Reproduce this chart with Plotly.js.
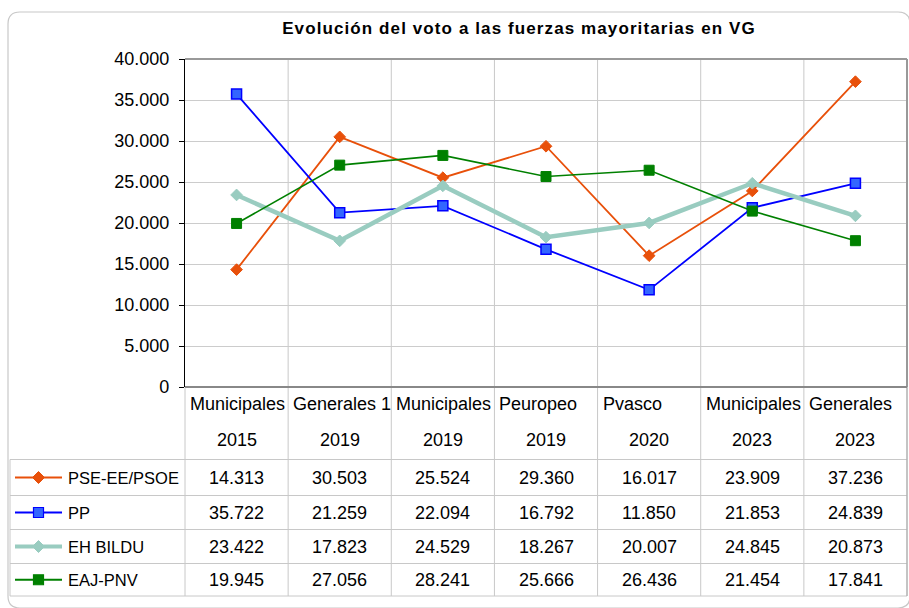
<!DOCTYPE html>
<html>
<head>
<meta charset="utf-8">
<script src="https://cdn.plot.ly/plotly-3.0.1.min.js"></script>
<style>
  html, body { margin: 0; padding: 0; background: #ffffff; }
  #chart { width: 909px; height: 608px; }
  .gtitle { letter-spacing: 1.1px; }
</style>
</head>
<body>
<div id="chart"></div>
<script>
// ---- data ----
const catLine1 = ["Municipales", "Generales 1", "Municipales", "Peuropeo", "Pvasco", "Municipales", "Generales"];
const catLine2 = ["2015", "2019", "2019", "2019", "2020", "2023", "2023"];
const seriesNames = ["PSE-EE/PSOE", "PP", "EH BILDU", "EAJ-PNV"];
const psoe  = [14313, 30503, 25524, 29360, 16017, 23909, 37236];
const pp    = [35722, 21259, 22094, 16792, 11850, 21853, 24839];
const bildu = [23422, 17823, 24529, 18267, 20007, 24845, 20873];
const pnv   = [19945, 27056, 28241, 25666, 26436, 21454, 17841];
const yTickMax = 40000;
const yTickStep = 5000;
const chartTitle = "Evolución del voto a las fuerzas mayoritarias en VG";

// ---- styling / layout helpers ----
const FONT = "Liberation Sans, Arial, Helvetica, sans-serif";
const L = 185, R = 907, T = 59, B = 387;       // plot area in pixels
const px = x => (x - L) / (R - L);
const py = y => (B - y) / (B - T);

const styles = [
  { line: { color: "#E8500A", width: 1.8 }, marker: { symbol: "diamond", size: 9, color: "#E8500A", line: { color: "#E8500A", width: 1 } }, lg: "diamond", lw: 2, mfill: "#E8500A", mline: "#E8500A" },
  { line: { color: "#0000FF", width: 1.8 }, marker: { symbol: "square", size: 10, color: "#3366FF", line: { color: "#0000FF", width: 1.5 } }, lg: "square", lw: 2, mfill: "#3366FF", mline: "#0000FF" },
  { line: { color: "#99CCC0", width: 4.5 }, marker: { symbol: "diamond", size: 9, color: "#99CCC0", line: { color: "#99CCC0", width: 1 } }, lg: "diamond", lw: 4, mfill: "#99CCC0", mline: "#99CCC0" },
  { line: { color: "#008000", width: 1.6 }, marker: { symbol: "square", size: 10, color: "#008000", line: { color: "#008000", width: 1 } }, lg: "square", lw: 2, mfill: "#008000", mline: "#008000" }
];
const seriesValues = [psoe, pp, bildu, pnv];
const xIdx = catLine1.map((_, i) => i);

const traces = seriesValues.map((vals, k) => ({
  type: "scatter", mode: "lines+markers",
  x: xIdx, y: vals, name: seriesNames[k],
  line: styles[k].line, marker: styles[k].marker,
  hoverinfo: "skip", cliponaxis: false
}));

function fmt(n) { return String(n).replace(/\B(?=(\d{3})+(?!\d))/g, "."); }

const GRID = "#c8c8c8";
const shapes = [];
const annotations = [];

// outer rounded border
(function () {
  const x0 = 8, y0 = 12, x1 = 910, y1 = 608, r = 12;
  const p = (x, y) => px(x) + "," + py(y);
  shapes.push({
    type: "path", xref: "paper", yref: "paper", layer: "below",
    path: "M" + p(x0, y0 + r) + " Q" + p(x0, y0) + " " + p(x0 + r, y0) +
          " L" + p(x1 - r, y0) + " Q" + p(x1, y0) + " " + p(x1, y0 + r) +
          " L" + p(x1, y1 - r) + " Q" + p(x1, y1) + " " + p(x1 - r, y1) +
          " L" + p(x0 + r, y1) + " Q" + p(x0, y1) + " " + p(x0, y1 - r) + " Z",
    line: { color: "#c8c8c8", width: 1.2 }
  });
})();

// table geometry (pixels)
const rowLines = [459.5, 495.5, 529.5, 563.5, 596];
const tableBottom = 596;
// vertical column boundaries through plot and table
for (let i = 0; i < xIdx.length - 1; i++) {
  shapes.push({ type: "line", xref: "x", yref: "paper", x0: i + 0.5, x1: i + 0.5, y0: 1, y1: py(tableBottom), line: { color: GRID, width: 1 }, layer: "below" });
}
// table left-of-plot vertical line and far-left border
shapes.push({ type: "line", xref: "paper", yref: "paper", x0: 0, x1: 0, y0: 0, y1: py(tableBottom), line: { color: GRID, width: 1 } });
shapes.push({ type: "line", xref: "paper", yref: "paper", x0: px(10), x1: px(10), y0: py(rowLines[0]), y1: py(tableBottom), line: { color: GRID, width: 1 } });
// horizontal table lines
rowLines.forEach(y => {
  shapes.push({ type: "line", xref: "paper", yref: "paper", x0: px(10), x1: 1, y0: py(y), y1: py(y), line: { color: GRID, width: 1 } });
});
// plot frame: top & right (gray), bottom axis line (gray), table right border
shapes.push({ type: "line", xref: "paper", yref: "paper", x0: 0, x1: 1, y0: 1, y1: 1, line: { color: "#999999", width: 2 } });
shapes.push({ type: "line", xref: "paper", yref: "paper", x0: 1, x1: 1, y0: 1, y1: 0, line: { color: "#999999", width: 2 } });
shapes.push({ type: "line", xref: "paper", yref: "paper", x0: 1, x1: 1, y0: 0, y1: py(tableBottom), line: { color: "#b0b0b0", width: 1.5 } });
shapes.push({ type: "line", xref: "paper", yref: "paper", x0: 0, x1: 1, y0: 0, y1: 0, line: { color: "#888888", width: 2 } });

// category header (two lines)
catLine1.forEach((t, i) => {
  annotations.push({ xref: "x", yref: "paper", x: i - 0.5, xshift: 3, y: py(404), xanchor: "left", yanchor: "middle",
    text: t, showarrow: false, font: { family: FONT, size: 18, color: "#000" } });
});
catLine2.forEach((t, i) => {
  annotations.push({ xref: "x", yref: "paper", x: i, y: py(440), xanchor: "center", yanchor: "middle",
    text: t, showarrow: false, font: { family: FONT, size: 18, color: "#000" } });
});

// series rows: legend key + values
seriesNames.forEach((name, k) => {
  const yc = (rowLines[k] + rowLines[k + 1]) / 2;
  const st = styles[k];
  shapes.push({ type: "line", xref: "paper", yref: "paper", x0: px(15), x1: px(62), y0: py(yc), y1: py(yc), line: { color: st.mline === st.mfill ? st.mfill : st.mline, width: st.lw } });
  if (st.lg === "square") {
    shapes.push({ type: "rect", xref: "paper", yref: "paper", xsizemode: "pixel", ysizemode: "pixel",
      xanchor: px(38.5), yanchor: py(yc), x0: -5, x1: 5, y0: -5, y1: 5,
      fillcolor: st.mfill, line: { color: st.mline, width: 1.2 } });
  } else {
    shapes.push({ type: "path", xref: "paper", yref: "paper", xsizemode: "pixel", ysizemode: "pixel",
      xanchor: px(38.5), yanchor: py(yc), path: "M0,-6 L6,0 L0,6 L-6,0 Z",
      fillcolor: st.mfill, line: { color: st.mline, width: 1 } });
  }
  annotations.push({ xref: "paper", yref: "paper", x: px(66), y: py(yc), xanchor: "left", yanchor: "middle",
    text: name, showarrow: false, font: { family: FONT, size: 16.5, color: "#000" } });
  seriesValues[k].forEach((v, i) => {
    annotations.push({ xref: "x", yref: "paper", x: i, y: py(yc), xanchor: "center", yanchor: "middle",
      text: fmt(v), showarrow: false, font: { family: FONT, size: 18, color: "#000" } });
  });
});

const yTicks = [];
for (let v = 0; v <= yTickMax; v += yTickStep) yTicks.push(v);

const layout = {
  width: 909, height: 608,
  margin: { l: L, r: 909 - R, t: T, b: 608 - B, pad: 0 },
  paper_bgcolor: "#ffffff", plot_bgcolor: "#ffffff",
  separators: ",.",
  showlegend: false,
  font: { family: FONT, color: "#000" },
  title: {
    text: chartTitle, xref: "container", yref: "container",
    x: 519 / 909, y: 1 - 28 / 608, xanchor: "center", yanchor: "middle",
    font: { family: FONT, size: 17, weight: "bold", color: "#000" }
  },
  xaxis: {
    type: "linear", range: [-0.5, xIdx.length - 0.5], fixedrange: true,
    showgrid: false, zeroline: false, showticklabels: false, ticks: "", showline: false
  },
  yaxis: {
    range: [0, yTickMax], tickvals: yTicks, ticktext: yTicks.map(fmt),
    showgrid: true, gridcolor: "#cccccc", gridwidth: 1, zeroline: false,
    showline: true, linecolor: "#000", linewidth: 1.2,
    ticks: "outside", ticklen: 5, tickcolor: "#000", tickwidth: 1,
    ticklabelstandoff: 6,
    tickfont: { family: FONT, size: 18, color: "#000" }, fixedrange: true
  },
  shapes: shapes,
  annotations: annotations
};

Plotly.newPlot("chart", traces, layout, { displayModeBar: false, staticPlot: true });
</script>
</body>
</html>
